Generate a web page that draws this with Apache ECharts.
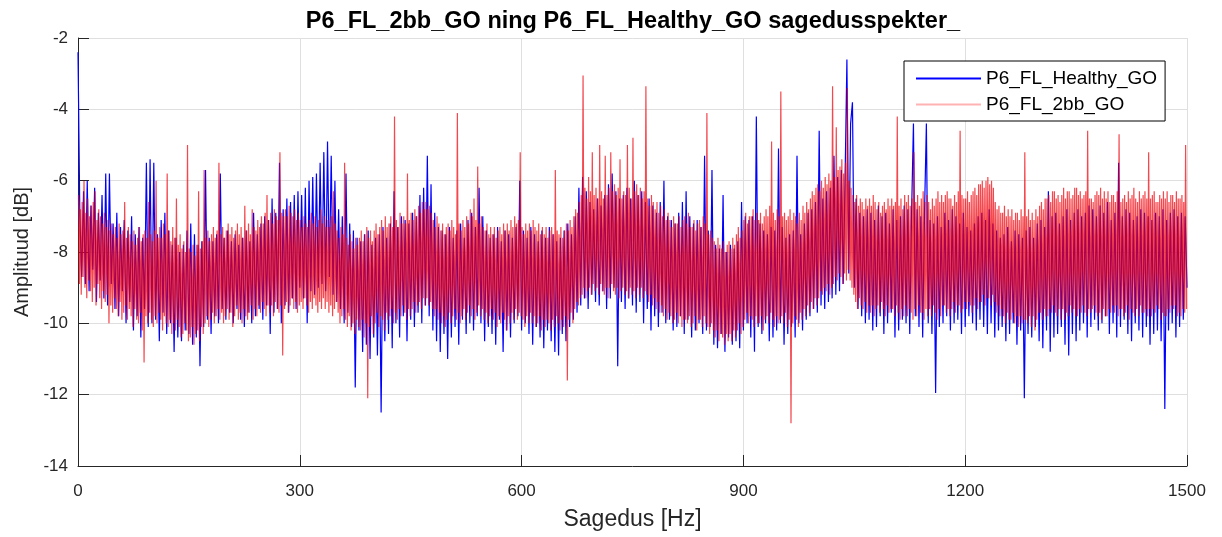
<!DOCTYPE html>
<html><head><meta charset="utf-8">
<script src="https://cdn.jsdelivr.net/npm/echarts@6/dist/echarts.min.js"></script>
<style>html,body{margin:0;padding:0;background:#fff}#c{width:1222px;height:537px}</style>
</head><body><div id="c"></div>
<script>
// Sampling grids (Hz) for the hand-read spectra
const healthyStart = 0, healthyStep = 2.5;
const faultStart = 0.625, faultStep = 1.25;
const xTickLabels = ['0','300','600','900','1200','1500'];
const yTickLabels = ['-14','-12','-10','-8','-6','-4','-2'];
const seriesNames = ['P6_FL_Healthy_GO','P6_FL_2bb_GO'];

// P6_FL_Healthy_GO, dB, 0 .. 297.5 Hz (2.5 Hz grid)
const healthy0 = [
-2.4,-7.0,-8.7,-6.3, -8.9,-6.0,-9.1,-6.7, -8.5,-6.2,-9.4,-6.9, -8.8,-6.4,-9.3,-5.8,
-9.5,-5.8,-8.9,-7.2, -9.6,-6.9,-9.8,-7.3, -9.1,-7.1,-10.0,-7.4, -9.4,-7.0,-10.2,-7.5,
-9.8,-7.3,-10.4,-7.6, -9.6,-5.5,-10.1,-5.4, -10.0,-5.5,-9.9,-7.5, -10.5,-7.1,-9.7,-6.9,
-10.3,-7.4,-10.0,-7.8, -10.8,-7.6,-10.4,-8.0, -10.5,-7.8,-10.2,-7.4, -10.3,-7.2,-10.6,-7.5,
-10.4,-7.8,-11.2,-7.7, -10.1,-5.7,-9.9,-7.6, -10.3,-7.7,-9.8,-7.5, -10.0,-5.8,-9.6,-7.6,
-9.9,-7.4,-9.7,-7.7, -10.0,-7.5,-9.6,-7.8, -9.9,-7.6,-10.1,-7.4, -9.7,-7.7,-10.0,-6.9,
-9.8,-7.5,-9.6,-7.2, -9.9,-7.0,-9.5,-7.1, -10.3,-6.5,-9.7,-6.9, -9.6,-5.5,-10.0,-6.8,
-9.5,-6.5,-9.7,-6.6, -9.3,-6.4,-9.6,-6.3
];
// 300 .. 597.5 Hz
const healthy1 = [
-9.0,-6.4,-9.3,-6.2, -10.0,-6.0,-9.1,-5.9, -9.2,-5.8,-9.0,-5.5, -8.9,-5.2,-9.1,-4.9,
-8.7,-5.3,-9.2,-6.0, -9.4,-6.8,-9.6,-7.0, -10.0,-5.8,-9.7,-7.2, -10.1,-7.4,-11.8,-7.6,
-10.2,-7.7,-10.8,-7.5, -10.6,-7.4,-11.0,-7.8, -10.4,-7.6,-10.9,-7.5, -12.5,-7.3,-10.5,-7.6,
-10.3,-7.2,-10.7,-6.3, -10.0,-7.3,-10.4,-7.0, -9.8,-7.1,-10.5,-7.2, -9.9,-6.9,-10.1,-7.0,
-9.7,-6.4,-10.0,-6.2, -9.5,-5.3,-9.8,-6.1, -10.2,-6.9,-10.5,-7.3, -10.8,-7.4,-10.3,-7.5,
-11.0,-7.3,-10.4,-7.6, -10.1,-7.4,-10.6,-7.2, -9.9,-7.6,-10.3,-7.1, -10.0,-6.9,-10.2,-7.3,
-9.8,-6.2,-10.0,-7.0, -10.5,-7.4,-10.1,-7.6, -10.3,-7.5,-10.6,-7.3, -9.9,-7.7,-10.8,-7.4,
-10.2,-7.5,-10.4,-7.6, -10.0,-7.3,-9.8,-6.0
];
// 600 .. 897.5 Hz
const healthy2 = [
-10.2,-7.4,-10.0,-7.6, -10.3,-7.3,-10.6,-7.5, -10.1,-7.7,-10.4,-7.4, -10.7,-7.6,-10.2,-7.3,
-10.5,-7.5,-10.8,-7.7, -10.9,-7.6,-10.3,-7.4, -10.5,-7.2,-10.1,-7.5, -9.9,-7.0,-9.7,-6.2,
-9.5,-5.9,-9.3,-6.3, -9.6,-6.6,-9.2,-6.8, -9.4,-6.5,-9.5,-6.7, -9.1,-6.4,-9.6,-6.1,
-9.3,-5.8,-9.0,-6.3, -11.2,-6.5,-9.4,-6.4, -9.6,-6.2,-9.3,-6.5, -9.5,-6.0,-9.7,-6.4,
-9.4,-6.3,-10.0,-6.6, -9.6,-6.5,-10.2,-6.7, -9.8,-6.9,-10.1,-6.6, -9.7,-6.0,-10.0,-7.0,
-9.9,-7.1,-10.2,-7.2, -10.1,-6.9,-9.8,-6.6, -10.3,-6.3,-9.9,-7.0, -10.4,-7.2,-10.2,-7.1,
-10.0,-7.3,-10.3,-5.3, -10.2,-7.4,-10.1,-5.7, -10.6,-7.8,-10.7,-7.9, -10.3,-6.4,-10.8,-8.0,
-10.4,-7.8,-10.6,-7.9, -10.5,-7.7,-10.7,-6.6
];
// 900 .. 1197.5 Hz
const healthy3 = [
-10.2,-7.0,-10.0,-7.1, -10.4,-7.0,-10.8,-4.2, -10.1,-7.2,-10.3,-7.4, -10.0,-7.5,-10.5,-7.3,
-10.4,-7.4,-10.2,-5.1, -10.0,-7.3,-10.6,-7.6, -10.3,-7.5,-10.1,-7.4, -10.4,-5.3,-10.0,-7.5,
-10.2,-7.2,-9.9,-6.9, -9.8,-6.8,-9.6,-6.6, -9.7,-4.6,-9.5,-6.5, -9.6,-6.3,-9.4,-6.2,
-9.3,-5.3,-9.2,-5.9, -9.1,-5.7,-8.9,-6.0, -2.6,-8.6,-4.4,-3.8, -9.0,-6.5,-9.6,-6.9,
-9.8,-7.0,-10.0,-6.8, -9.9,-6.9,-10.2,-7.1, -10.1,-6.7,-9.8,-7.0, -10.3,-6.9,-10.0,-7.2,
-9.7,-6.8,-10.4,-7.1, -10.2,-7.0,-9.9,-6.7, -10.0,-6.8,-10.3,-6.9, -4.4,-9.8,-6.8,-10.1,
-7.0,-10.4,-6.9,-4.4, -10.0,-7.1,-10.3,-7.2, -11.95,-7.0,-10.1,-7.3, -10.0,-6.9,-9.8,-7.1,
-10.2,-6.8,-10.0,-7.0, -9.9,-7.2,-10.3,-6.9
];
// 1200 .. 1500 Hz
const healthy4 = [
-10.1,-7.3,-9.8,-7.4, -10.0,-7.2,-10.2,-7.0, -9.9,-6.9,-10.1,-7.1, -10.3,-6.8,-10.0,-7.2,
-10.4,-7.4,-10.2,-7.6, -10.1,-7.5,-10.5,-7.3, -10.3,-7.7,-10.0,-7.4, -10.6,-7.5,-10.2,-7.6,
-12.1,-7.4,-10.3,-7.3, -10.4,-7.6,-10.1,-7.2, -10.5,-7.1,-10.7,-7.3, -10.2,-6.3,-10.8,-7.0,
-10.4,-6.9,-10.3,-7.2, -10.1,-7.0,-10.6,-6.8, -10.9,-7.1,-10.3,-6.9, -10.5,-6.8,-10.2,-7.0,
-10.0,-6.9,-10.4,-6.7, -10.1,-6.8,-9.9,-7.0, -10.2,-6.7,-10.0,-6.9, -9.8,-6.6,-10.3,-7.1,
-10.0,-6.9,-10.4,-5.5, -10.1,-7.0,-9.9,-6.8, -10.3,-6.9,-10.5,-7.1, -10.0,-7.0,-10.2,-6.8,
-10.4,-6.9,-10.1,-7.0, -10.6,-7.1,-10.3,-6.9, -10.2,-7.0,-10.5,-6.8, -12.4,-7.1,-10.2,-6.9,
-10.0,-6.8,-10.4,-7.0, -10.1,-6.9,-9.9,-7.0, -9.0
];

// P6_FL_2bb_GO, dB, 1.25 Hz grid starting 0.625 Hz; one array per 150 Hz
const fault0 = [
-6.4,-8.9,-6.8,-9.2,-6.6,-8.7,-6.0,-9.0, -6.9,-9.3,-6.5,-8.8,-7.0,-9.1,-6.7,-9.4,
-6.6,-9.0,-6.3,-9.5,-7.1,-8.9,-6.8,-9.3, -7.0,-9.6,-7.2,-9.1,-6.9,-9.4,-7.3,-9.2,
-7.1,-10.0,-7.4,-9.5,-7.2,-9.7,-7.5,-9.3, -7.3,-9.6,-7.6,-9.8,-7.2,-9.4,-7.5,-9.9,
-7.4,-9.7,-6.6,-9.5,-7.6,-9.9,-7.3,-9.6, -7.5,-9.8,-7.7,-10.1,-7.4,-9.6,-7.8,-9.9,
-7.6,-10.0,-7.3,-9.7,-7.7,-10.2,-7.5,-11.1, -7.4,-9.8,-7.6,-10.0,-6.6,-9.7,-7.5,-9.9,
-7.7,-10.1,-7.4,-9.8,-6.0,-10.0,-7.6,-9.7, -7.3,-9.9,-7.6,-10.2,-7.2,-9.8,-7.5,-10.0,
-5.8,-10.1,-7.4,-9.9,-7.7,-10.3,-7.3,-10.0, -7.6,-10.2,-6.5,-9.9,-7.8,-10.1,-7.5,-10.4,
-7.9,-10.3,-7.7,-10.0,-8.0,-10.2,-5.0,-10.5
];
const fault1 = [
-7.9,-10.4,-8.0,-10.1,-7.8,-10.6,-8.1,-10.3, -7.8,-10.2,-6.3,-10.5,-7.9,-10.1,-7.7,-10.3,
-5.7,-10.0,-7.6,-9.8,-7.4,-10.1,-7.7,-9.9, -7.5,-9.7,-7.3,-10.0,-7.6,-9.8,-7.4,-9.6,
-5.5,-9.9,-7.5,-9.7,-7.3,-10.0,-7.6,-9.8, -7.4,-9.6,-7.2,-9.9,-7.5,-9.7,-7.3,-10.1,
-7.6,-9.8,-7.4,-9.5,-7.2,-9.9,-7.5,-9.7, -7.3,-10.0,-7.6,-9.6,-6.7,-9.8,-7.4,-9.9,
-7.2,-9.7,-7.5,-9.5,-6.8,-9.9,-7.3,-9.6, -7.4,-9.8,-7.1,-9.5,-7.3,-9.7,-7.0,-9.4,
-7.2,-9.6,-6.9,-9.8,-6.4,-9.5,-7.1,-9.7, -6.9,-9.5,-7.2,-9.8,-6.8,-9.4,-7.0,-9.6,
-7.1,-9.7,-5.2,-9.5,-6.9,-10.9,-7.0,-9.6, -6.8,-9.4,-7.0,-9.7,-6.7,-9.5,-6.9,-9.3,
-7.0,-9.6,-6.8,-9.4,-7.1,-9.7,-6.9,-9.5
];
const fault2 = [
-7.1,-9.4,-7.3,-9.6,-7.0,-9.3,-7.2,-9.5, -7.3,-9.7,-7.1,-9.4,-6.9,-9.6,-7.2,-9.3,
-7.0,-9.5,-7.3,-9.7,-7.1,-9.4,-6.8,-9.6, -7.2,-9.3,-7.0,-9.6,-7.3,-9.4,-7.1,-9.7,
-7.3,-9.5,-7.0,-9.8,-6.3,-9.6,-7.2,-9.4, -7.4,-9.7,-7.6,-10.0,-7.3,-9.8,-7.5,-9.6,
-5.5,-9.9,-7.6,-10.1,-7.8,-9.8,-7.5,-10.2, -7.7,-10.0,-7.9,-10.3,-7.6,-9.9,-7.8,-10.1,
-7.6,-10.2,-7.4,-9.9,-7.7,-10.4,-7.5,-10.0, -7.3,-12.1,-7.6,-10.1,-7.4,-9.8,-7.7,-10.3,
-7.4,-10.0,-7.2,-9.7,-7.5,-10.1,-7.3,-9.8, -7.1,-9.9,-7.4,-10.2,-7.0,-9.7,-7.3,-9.9,
-7.2,-9.8,-7.0,-9.6,-7.3,-10.0,-4.2,-9.7, -7.1,-9.9,-7.3,-9.6,-6.9,-9.8,-7.2,-9.5,
-7.0,-9.7,-7.2,-9.9,-5.8,-9.6,-7.1,-9.8
];
const fault3 = [
-6.9,-9.6,-7.1,-9.4,-6.8,-9.7,-7.0,-9.5, -6.7,-9.4,-6.9,-9.6,-6.6,-9.3,-6.8,-9.5,
-6.6,-9.3,-6.8,-9.5,-6.7,-9.4,-6.9,-9.6, -7.1,-9.8,-7.3,-9.6,-7.0,-9.9,-7.2,-9.7,
-7.4,-10.0,-7.2,-9.8,-7.5,-10.1,-7.3,-9.9, -7.2,-9.7,-7.4,-10.0,-7.1,-9.8,-7.3,-9.6,
-7.5,-9.9,-4.1,-9.7,-7.2,-10.0,-7.4,-9.8, -7.1,-9.6,-7.3,-9.9,-7.0,-9.7,-7.2,-9.5,
-6.8,-9.8,-7.0,-9.6,-6.5,-9.9,-7.1,-9.7, -5.6,-9.5,-7.2,-9.8,-7.0,-9.6,-7.3,-9.9,
-7.4,-9.7,-7.2,-10.0,-7.5,-9.8,-7.3,-9.6, -7.5,-9.9,-7.3,-9.7,-7.6,-10.1,-7.4,-9.8,
-7.3,-10.0,-7.5,-9.7,-7.2,-9.9,-7.4,-10.2, -7.2,-9.8,-7.4,-10.0,-7.1,-9.7,-7.3,-9.9,
-7.0,-9.6,-7.2,-9.9,-7.1,-9.7,-5.2,-9.8
];
const fault4 = [
-7.3,-9.9,-7.5,-10.1,-7.2,-9.8,-7.4,-10.0, -7.2,-9.7,-7.4,-10.0,-7.1,-9.8,-7.3,-10.1,
-7.4,-10.0,-7.2,-9.8,-7.5,-10.2,-7.3,-9.9, -7.5,-10.1,-7.3,-9.9,-7.6,-10.0,-7.4,-10.2,
-7.3,-9.9,-7.5,-10.1,-5.7,-9.8,-7.4,-10.0, -7.5,-10.2,-7.3,-9.9,-7.6,-10.1,-7.4,-9.8,
-7.2,-11.6,-7.4,-9.9,-7.1,-9.7,-7.3,-10.0, -7.0,-9.6,-6.8,-9.4,-6.9,-9.5,-6.6,-9.3,
-6.4,-9.2,-3.05,-9.0,-6.2,-9.3,-6.5,-9.1, -5.9,-9.0,-6.3,-9.2,-5.2,-8.9,-6.4,-9.1,
-6.2,-9.0,-6.5,-9.2,-5.0,-8.9,-6.3,-9.1, -6.5,-9.2,-5.3,-9.0,-6.4,-9.3,-6.2,-9.0,
-5.2,-8.9,-6.3,-9.1,-6.1,-9.2,-6.4,-9.0, -6.2,-9.3,-5.4,-9.1,-6.5,-9.0,-6.3,-9.2,
-6.4,-9.1,-5.0,-9.3,-6.2,-9.0,-6.5,-9.2
];
const fault5 = [
-4.8,-9.1,-6.3,-9.3,-6.1,-9.0,-6.4,-9.2, -6.2,-9.0,-6.5,-9.3,-6.3,-9.1,-3.35,-9.2,
-6.5,-9.4,-6.7,-9.2,-6.4,-9.5,-6.6,-9.3, -6.8,-9.6,-6.6,-9.4,-6.9,-9.7,-6.7,-9.5,
-7.0,-9.8,-6.8,-9.6,-7.1,-9.9,-6.9,-9.7, -7.1,-9.8,-7.3,-10.0,-7.0,-9.9,-7.2,-9.7,
-7.2,-10.0,-7.0,-9.8,-7.3,-10.1,-7.1,-9.9, -7.0,-9.9,-7.2,-10.0,-6.9,-9.8,-7.3,-10.1,
-7.3,-10.0,-7.1,-9.8,-7.4,-10.2,-7.2,-9.9, -7.1,-9.9,-7.3,-10.1,-7.0,-9.8,-7.2,-10.0,
-4.1,-10.1,-7.5,-10.3,-7.4,-10.0,-7.6,-10.2, -7.7,-10.4,-7.9,-10.2,-7.6,-10.5,-7.8,-10.3,
-7.9,-10.4,-7.7,-10.6,-8.0,-10.3,-7.8,-10.5, -7.7,-10.3,-7.9,-10.5,-7.6,-10.2,-7.8,-10.4,
-7.5,-10.2,-7.3,-10.0,-7.6,-10.3,-7.4,-10.1
];
const fault6 = [
-7.1,-9.9,-6.9,-9.7,-7.2,-10.0,-7.0,-9.8, -7.0,-9.9,-6.8,-10.1,-7.1,-9.8,-6.9,-10.0,
-7.1,-10.0,-6.9,-9.8,-7.2,-10.2,-7.0,-9.9, -6.8,-9.8,-7.0,-10.0,-6.7,-9.7,-4.9,-9.9,
-6.9,-10.1,-7.1,-9.8,-6.8,-10.0,-7.0,-9.9, -3.5,-9.8,-7.0,-10.0,-6.9,-9.7,-7.1,-10.1,
-7.0,-9.9,-6.8,-12.8,-7.1,-10.0,-6.9,-9.8, -7.0,-9.9,-7.2,-10.1,-6.9,-9.7,-7.1,-9.9,
-6.7,-9.6,-6.9,-9.8,-6.6,-9.5,-6.8,-9.7, -6.5,-9.4,-6.3,-9.6,-6.4,-9.3,-6.2,-9.5,
-6.1,-9.3,-6.3,-9.1,-6.0,-9.2,-6.2,-9.0, -5.9,-9.1,-6.1,-8.9,-5.8,-9.2,-6.0,-9.0,
-3.35,-8.9,-5.9,-8.7,-4.5,-8.8,-5.7,-8.6, -5.6,-8.7,-5.4,-8.9,-5.8,-8.6,-5.5,-8.8,
-3.4,-8.5,-6.0,-8.8,-6.2,-9.0,-6.4,-9.2
];
const fault7 = [
-6.6,-9.4,-6.4,-9.6,-6.7,-9.3,-6.5,-9.5, -6.6,-9.6,-6.8,-9.4,-6.5,-9.7,-6.7,-9.5,
-6.5,-9.7,-6.7,-9.5,-6.4,-9.8,-6.6,-9.6, -6.8,-9.5,-6.6,-9.7,-6.9,-9.4,-6.7,-9.6,
-6.6,-9.8,-6.8,-9.5,-6.5,-9.7,-6.7,-9.6, -6.5,-9.6,-6.7,-9.8,-6.6,-9.5,-4.2,-9.7,
-6.7,-9.9,-6.5,-9.6,-6.8,-9.8,-6.4,-9.5, -6.6,-9.8,-6.4,-9.6,-6.7,-9.7,-6.5,-9.9,
-5.2,-9.6,-6.6,-9.8,-6.4,-9.5,-6.7,-9.7, -6.5,-9.7,-6.3,-9.9,-6.6,-9.6,-6.4,-9.8,
-6.6,-9.6,-6.8,-9.8,-6.5,-9.5,-6.7,-9.7, -6.5,-9.9,-6.3,-9.6,-6.6,-9.8,-6.4,-9.5,
-6.6,-9.5,-6.4,-9.7,-6.3,-9.6,-6.5,-9.8, -6.5,-9.6,-6.7,-9.4,-6.4,-9.7,-6.6,-9.5,
-6.3,-9.5,-4.6,-9.7,-6.4,-9.6,-6.5,-9.4
];
const fault8 = [
-6.5,-9.6,-6.3,-9.4,-6.6,-9.5,-6.4,-9.7, -6.3,-9.5,-6.2,-9.3,-6.4,-9.6,-6.1,-9.4,
-6.1,-9.4,-6.0,-9.2,-6.2,-9.5,-6.0,-9.3, -5.9,-9.3,-6.1,-9.5,-6.0,-9.2,-6.2,-9.4,
-6.6,-9.7,-6.8,-9.5,-6.7,-9.8,-6.9,-9.6, -6.9,-9.8,-6.7,-10.0,-7.0,-9.7,-6.8,-9.9,
-7.0,-9.9,-6.8,-9.7,-7.1,-10.0,-6.9,-9.8, -6.9,-10.1,-7.1,-9.8,-6.8,-10.0,-7.0,-9.9,
-5.2,-9.9,-7.0,-10.0,-6.8,-9.8,-7.1,-10.1, -6.9,-9.8,-7.1,-10.2,-6.8,-9.9,-7.0,-9.7,
-6.7,-9.7,-6.6,-9.9,-6.8,-9.6,-6.5,-9.8, -6.5,-9.8,-6.4,-9.6,-6.6,-9.7,-6.3,-9.5,
-6.3,-9.7,-6.5,-9.8,-6.4,-9.6,-6.6,-9.9, -6.4,-9.6,-6.2,-9.9,-6.5,-9.7,-6.3,-9.8,
-6.3,-9.5,-6.5,-9.7,-6.4,-9.6,-6.2,-9.8
];
const fault9 = [
-6.2,-9.8,-6.4,-9.6,-6.3,-9.7,-6.5,-9.5, -6.4,-9.7,-6.3,-9.8,-4.6,-9.6,-6.5,-9.7,
-6.5,-9.6,-6.6,-9.5,-6.4,-9.7,-6.3,-9.8, -6.4,-9.7,-6.2,-9.9,-6.5,-9.6,-6.3,-9.8,
-6.5,-9.8,-6.3,-9.6,-6.6,-9.7,-6.4,-9.5, -6.4,-9.7,-6.6,-9.5,-6.3,-9.8,-4.7,-9.6,
-6.6,-9.6,-6.5,-9.8,-6.4,-9.7,-6.6,-9.5, -6.3,-9.9,-6.5,-9.6,-6.4,-9.7,-6.2,-9.8,
-6.5,-9.6,-6.6,-9.8,-6.3,-9.5,-6.5,-9.7, -6.4,-9.7,-6.3,-9.6,-6.5,-9.8,-5.2,-9.6,
-6.5,-9.8,-6.4,-9.6,-6.3,-9.7,-6.6,-9.5, -6.6,-9.6,-6.4,-9.9,-6.5,-9.7,-6.3,-9.8,
-6.5,-9.8,-6.3,-9.6,-6.6,-9.7,-6.4,-9.5, -6.4,-9.6,-6.6,-9.5,-6.3,-9.8,-6.5,-9.7,
-6.5,-9.8,-6.4,-9.6,-6.6,-9.7,-5.0,-9.6
];

const healthyVals = [].concat(healthy0, healthy1, healthy2, healthy3, healthy4);
const faultVals = [].concat(fault0, fault1, fault2, fault3, fault4, fault5, fault6, fault7, fault8, fault9);
const healthyData = healthyVals.map((v, i) => [healthyStart + i * healthyStep, v]);
const faultData = faultVals.map((v, i) => [faultStart + i * faultStep, v]);

const FONT = '"Liberation Sans", Arial, Helvetica, sans-serif';
const AX = '#262626';
const chart = echarts.init(document.getElementById('c'), null, {renderer: 'canvas'});
chart.setOption({
  animation: false,
  backgroundColor: '#ffffff',
  title: {
    text: 'P6_FL_2bb_GO ning P6_FL_Healthy_GO sagedusspekter_',
    left: 628, top: 5, textAlign: 'center',
    textStyle: {fontFamily: FONT, fontWeight: 'bold', fontSize: 23.5, color: '#000'}
  },
  grid: {left: 78, right: 35, top: 38, bottom: 71, containLabel: false},
  legend: {
    orient: 'vertical', left: 904, top: 61,
    backgroundColor: '#fff', borderColor: '#000', borderWidth: 1,
    padding: [8, 8, 7, 12], itemGap: 7, itemWidth: 65, itemHeight: 2,
    icon: 'rect',
    textStyle: {fontFamily: FONT, fontSize: 19, color: '#000'},
    data: [
      {name: seriesNames[0], itemStyle: {color: '#0000ff'}},
      {name: seriesNames[1], itemStyle: {color: 'rgba(255,0,0,0.3)'}}
    ]
  },
  xAxis: {
    type: 'value', min: 0, max: 1500, interval: 300,
    name: 'Sagedus [Hz]', nameLocation: 'middle', nameGap: 42,
    nameTextStyle: {fontFamily: FONT, fontSize: 23, color: AX},
    axisLine: {show: true, onZero: false, lineStyle: {color: AX, width: 1}},
    axisTick: {show: true, inside: true, length: 11, lineStyle: {color: AX}},
    axisLabel: {fontFamily: FONT, fontSize: 17, color: AX, margin: 17,
      formatter: v => xTickLabels[xTickLabels.indexOf(String(v))] || String(v)},
    splitLine: {show: true, lineStyle: {color: '#dfdfdf', width: 1}}
  },
  yAxis: {
    type: 'value', min: -14, max: -2, interval: 2,
    name: 'Amplituud [dB]', nameLocation: 'middle', nameGap: 46, nameRotate: 90,
    nameTextStyle: {fontFamily: FONT, fontSize: 20, color: AX},
    axisLine: {show: true, onZero: false, lineStyle: {color: AX, width: 1}},
    axisTick: {show: true, inside: true, length: 11, lineStyle: {color: AX}},
    axisLabel: {fontFamily: FONT, fontSize: 17, color: AX, margin: 10,
      formatter: v => yTickLabels[yTickLabels.indexOf(String(v))] || String(v)},
    splitLine: {show: true, lineStyle: {color: '#dfdfdf', width: 1}}
  },
  series: [
    {
      name: seriesNames[0], type: 'line', data: healthyData,
      showSymbol: false, symbol: 'none', smooth: false,
      itemStyle: {color: '#0000ff'},
      lineStyle: {color: '#0000ff', width: 1.2},
      z: 2
    },
    {
      name: seriesNames[1], type: 'line', data: faultData,
      showSymbol: false, symbol: 'none', smooth: false,
      itemStyle: {color: 'rgba(255,0,0,0.3)'},
      lineStyle: {color: 'rgba(240,0,10,0.72)', width: 1.2},
      z: 3
    }
  ]
});
</script>
</body></html>
